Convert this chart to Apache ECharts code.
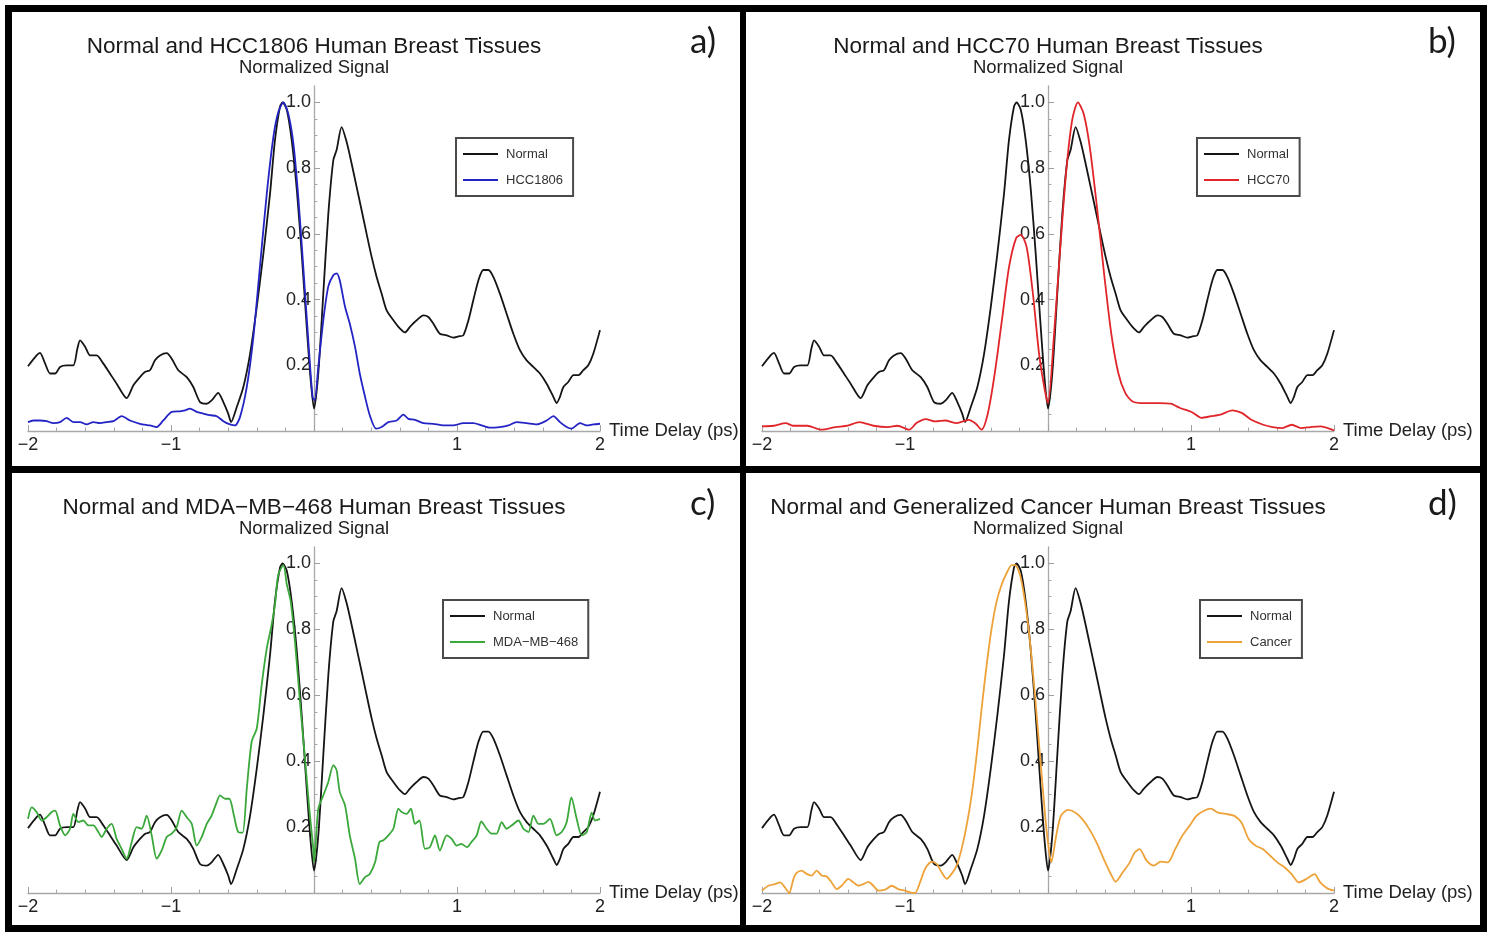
<!DOCTYPE html>
<html>
<head>
<meta charset="utf-8">
<script src="https://cdn.jsdelivr.net/npm/echarts@6/dist/echarts.min.js"></script>
<style>
html,body{margin:0;padding:0;background:#fff;}
#chart{width:1491px;height:932px;}
</style>
</head>
<body>
<div id="chart"></div>
<script>
// ---------- data (time delay ps, normalized signal) ----------
const normal = [[-2.0,0.197],[-1.94,0.23],[-1.916,0.238],[-1.88,0.205],[-1.846,0.175],[-1.81,0.175],[-1.776,0.195],[-1.73,0.20],[-1.683,0.20],[-1.655,0.25],[-1.636,0.276],[-1.60,0.256],[-1.566,0.23],[-1.52,0.23],[-1.473,0.205],[-1.427,0.175],[-1.38,0.144],[-1.31,0.10],[-1.263,0.139],[-1.217,0.164],[-1.18,0.18],[-1.147,0.185],[-1.112,0.215],[-1.077,0.23],[-1.03,0.237],[-0.995,0.22],[-0.949,0.185],[-0.89,0.164],[-0.844,0.134],[-0.797,0.088],[-0.75,0.083],[-0.716,0.093],[-0.67,0.116],[-0.634,0.088],[-0.60,0.053],[-0.58,0.027],[-0.54,0.073],[-0.494,0.134],[-0.447,0.235],[-0.40,0.378],[-0.354,0.54],[-0.308,0.72],[-0.273,0.885],[-0.238,0.987],[-0.22,1.0],[-0.19,0.977],[-0.156,0.885],[-0.12,0.733],[-0.086,0.54],[-0.051,0.317],[-0.023,0.154],[0.0,0.068],[0.03,0.175],[0.065,0.418],[0.10,0.66],[0.135,0.824],[0.158,0.855],[0.193,0.925],[0.228,0.88],[0.263,0.814],[0.298,0.743],[0.333,0.672],[0.368,0.60],[0.403,0.53],[0.438,0.469],[0.473,0.418],[0.508,0.367],[0.555,0.337],[0.60,0.312],[0.636,0.30],[0.671,0.317],[0.718,0.337],[0.765,0.352],[0.80,0.347],[0.834,0.327],[0.88,0.296],[0.928,0.291],[0.974,0.284],[1.01,0.288],[1.044,0.291],[1.08,0.337],[1.114,0.398],[1.15,0.459],[1.184,0.49],[1.22,0.49],[1.254,0.469],[1.30,0.418],[1.347,0.357],[1.394,0.296],[1.44,0.246],[1.487,0.215],[1.534,0.195],[1.58,0.175],[1.627,0.144],[1.674,0.104],[1.697,0.085],[1.72,0.104],[1.744,0.134],[1.778,0.149],[1.814,0.17],[1.85,0.17],[1.883,0.185],[1.918,0.20],[1.953,0.235],[2.0,0.307]];

const hcc1806 = [[-2.0,0.027],[-1.963,0.032],[-1.916,0.032],[-1.87,0.03],[-1.823,0.024],[-1.776,0.027],[-1.73,0.04],[-1.683,0.027],[-1.636,0.027],[-1.59,0.02],[-1.543,0.027],[-1.497,0.024],[-1.45,0.027],[-1.403,0.03],[-1.345,0.045],[-1.287,0.032],[-1.217,0.022],[-1.147,0.017],[-1.10,0.012],[-1.054,0.032],[-0.995,0.058],[-0.937,0.06],[-0.902,0.063],[-0.867,0.068],[-0.82,0.058],[-0.774,0.053],[-0.727,0.048],[-0.68,0.045],[-0.634,0.03],[-0.587,0.02],[-0.552,0.017],[-0.517,0.043],[-0.47,0.134],[-0.424,0.286],[-0.378,0.50],[-0.33,0.723],[-0.284,0.895],[-0.25,0.97],[-0.214,1.0],[-0.18,0.966],[-0.144,0.875],[-0.11,0.713],[-0.075,0.50],[-0.04,0.276],[-0.01,0.104],[0.005,0.093],[0.03,0.195],[0.065,0.337],[0.10,0.44],[0.135,0.474],[0.158,0.48],[0.18,0.459],[0.217,0.378],[0.25,0.327],[0.287,0.256],[0.32,0.175],[0.357,0.104],[0.39,0.048],[0.434,0.007],[0.473,0.012],[0.52,0.027],[0.578,0.032],[0.625,0.05],[0.66,0.037],[0.706,0.034],[0.765,0.024],[0.834,0.022],[0.904,0.017],[0.974,0.017],[1.044,0.024],[1.114,0.024],[1.172,0.017],[1.23,0.01],[1.30,0.012],[1.36,0.017],[1.417,0.027],[1.487,0.024],[1.557,0.02],[1.627,0.032],[1.674,0.045],[1.72,0.027],[1.767,0.012],[1.80,0.007],[1.86,0.024],[1.907,0.017],[1.953,0.02],[2.0,0.022]];

const hcc70 = [[-2.0,0.014],[-1.917,0.016],[-1.834,0.024],[-1.784,0.016],[-1.684,0.016],[-1.585,0.004],[-1.485,0.012],[-1.402,0.016],[-1.319,0.027],[-1.22,0.016],[-1.12,0.012],[-1.053,0.016],[-0.97,0.004],[-0.92,0.024],[-0.854,0.036],[-0.787,0.029],[-0.72,0.032],[-0.638,0.024],[-0.555,0.034],[-0.505,0.022],[-0.465,0.004],[-0.42,0.055],[-0.372,0.176],[-0.322,0.338],[-0.272,0.50],[-0.223,0.587],[-0.19,0.597],[-0.15,0.561],[-0.106,0.42],[-0.063,0.237],[-0.023,0.126],[0.0,0.085],[0.043,0.298],[0.083,0.541],[0.126,0.784],[0.169,0.946],[0.209,1.0],[0.249,0.966],[0.292,0.865],[0.342,0.683],[0.392,0.48],[0.442,0.298],[0.492,0.176],[0.541,0.115],[0.591,0.09],[0.674,0.085],[0.774,0.085],[0.857,0.083],[0.924,0.07],[1.007,0.057],[1.073,0.04],[1.14,0.045],[1.206,0.05],[1.289,0.063],[1.355,0.055],[1.422,0.034],[1.505,0.019],[1.571,0.012],[1.638,0.009],[1.704,0.019],[1.77,0.009],[1.837,0.012],[1.904,0.014],[2.0,0.002]];

const mdamb468 = [[-2.0,0.225],[-1.974,0.26],[-1.94,0.246],[-1.904,0.22],[-1.87,0.23],[-1.834,0.246],[-1.81,0.25],[-1.776,0.205],[-1.74,0.175],[-1.706,0.195],[-1.683,0.24],[-1.648,0.215],[-1.613,0.22],[-1.578,0.205],[-1.543,0.205],[-1.508,0.185],[-1.485,0.17],[-1.45,0.195],[-1.415,0.21],[-1.38,0.164],[-1.345,0.134],[-1.31,0.104],[-1.275,0.154],[-1.24,0.20],[-1.205,0.195],[-1.17,0.235],[-1.135,0.175],[-1.10,0.104],[-1.065,0.129],[-1.03,0.17],[-0.995,0.18],[-0.96,0.20],[-0.925,0.25],[-0.89,0.23],[-0.855,0.21],[-0.82,0.144],[-0.785,0.17],[-0.75,0.21],[-0.716,0.235],[-0.68,0.276],[-0.657,0.296],[-0.622,0.286],[-0.592,0.286],[-0.56,0.235],[-0.53,0.185],[-0.499,0.183],[-0.47,0.317],[-0.436,0.459],[-0.40,0.50],[-0.366,0.631],[-0.33,0.743],[-0.296,0.814],[-0.273,0.875],[-0.25,0.966],[-0.214,0.995],[-0.19,0.936],[-0.163,0.885],[-0.133,0.763],[-0.098,0.58],[-0.063,0.408],[-0.033,0.256],[-0.005,0.134],[0.0,0.093],[0.03,0.256],[0.065,0.296],[0.10,0.337],[0.135,0.388],[0.158,0.373],[0.18,0.307],[0.217,0.266],[0.25,0.175],[0.287,0.104],[0.32,0.027],[0.357,0.048],[0.39,0.058],[0.427,0.093],[0.457,0.154],[0.485,0.16],[0.52,0.175],[0.555,0.195],[0.59,0.256],[0.613,0.246],[0.648,0.24],[0.678,0.256],[0.706,0.21],[0.737,0.22],[0.776,0.134],[0.81,0.139],[0.846,0.175],[0.88,0.129],[0.928,0.175],[0.963,0.164],[0.998,0.144],[1.03,0.149],[1.07,0.139],[1.10,0.154],[1.138,0.175],[1.17,0.217],[1.207,0.195],[1.242,0.18],[1.277,0.18],[1.312,0.215],[1.347,0.195],[1.382,0.205],[1.43,0.22],[1.464,0.195],[1.50,0.185],[1.534,0.235],[1.569,0.21],[1.604,0.21],[1.65,0.225],[1.697,0.175],[1.732,0.185],[1.767,0.215],[1.80,0.29],[1.837,0.225],[1.872,0.175],[1.907,0.185],[1.942,0.244],[1.965,0.22],[2.0,0.225]];

const cancer = [[-2.0,0.007],[-1.956,0.022],[-1.91,0.027],[-1.874,0.032],[-1.84,0.017],[-1.81,0.0],[-1.78,0.043],[-1.758,0.061],[-1.723,0.068],[-1.688,0.058],[-1.653,0.053],[-1.618,0.068],[-1.583,0.053],[-1.548,0.05],[-1.513,0.032],[-1.478,0.012],[-1.443,0.022],[-1.396,0.043],[-1.36,0.032],[-1.326,0.022],[-1.291,0.027],[-1.256,0.034],[-1.221,0.022],[-1.186,0.007],[-1.14,0.01],[-1.093,0.022],[-1.047,0.012],[-1.0,0.007],[-0.965,0.002],[-0.93,0.0],[-0.895,0.032],[-0.86,0.073],[-0.813,0.095],[-0.778,0.088],[-0.744,0.063],[-0.709,0.043],[-0.674,0.058],[-0.639,0.083],[-0.604,0.134],[-0.569,0.205],[-0.534,0.296],[-0.499,0.418],[-0.464,0.56],[-0.429,0.692],[-0.394,0.804],[-0.359,0.885],[-0.324,0.936],[-0.289,0.971],[-0.254,0.995],[-0.23,0.995],[-0.196,0.966],[-0.161,0.885],[-0.126,0.763],[-0.091,0.60],[-0.056,0.418],[-0.02,0.235],[0.0,0.153],[0.023,0.093],[0.057,0.173],[0.09,0.234],[0.14,0.252],[0.19,0.244],[0.24,0.224],[0.29,0.193],[0.34,0.153],[0.39,0.103],[0.44,0.057],[0.473,0.034],[0.522,0.062],[0.572,0.093],[0.606,0.123],[0.64,0.133],[0.69,0.098],[0.739,0.083],[0.789,0.095],[0.839,0.093],[0.889,0.133],[0.938,0.173],[0.988,0.203],[1.038,0.234],[1.088,0.249],[1.138,0.256],[1.188,0.244],[1.255,0.239],[1.304,0.234],[1.354,0.213],[1.404,0.163],[1.454,0.143],[1.504,0.133],[1.554,0.113],[1.604,0.093],[1.654,0.078],[1.704,0.057],[1.754,0.032],[1.804,0.042],[1.864,0.057],[1.904,0.032],[1.953,0.014],[2.0,0.007]];

const panelTitles = ['Normal and HCC1806 Human Breast Tissues','Normal and HCC70 Human Breast Tissues','Normal and MDA\u2212MB\u2212468 Human Breast Tissues','Normal and Generalized Cancer Human Breast Tissues'];
const panelLetters = ['a)','b)','c)','d)'];
const sampleNames = ['HCC1806','HCC70','MDA\u2212MB\u2212468','Cancer'];
const sampleData = [hcc1806, hcc70, mdamb468, cancer];
const sampleColors = ['#2424c4','#e0262a','#3aa83a','#eea23a'];
const majorY = [0.2,0.4,0.6,0.8,1.0];
const minorY = [0.05,0.1,0.15,0.25,0.3,0.35,0.45,0.5,0.55,0.65,0.7,0.75,0.85,0.9,0.95];

// ---------- layout ----------
const FONT = '"Liberation Sans", Arial, Helvetica, sans-serif';
const gridPos = [
  {left:28, top:86, width:572, height:345},
  {left:762, top:86, width:572, height:345},
  {left:28, top:547, width:572, height:346},
  {left:762, top:547, width:572, height:346}
];
const yAxisShift = -286; // move y axis from grid edge to time delay 0
const legendPos = [{left:456, top:138},{left:1197, top:138},{left:443, top:600},{left:1200, top:600}];
const titlePos = [{x:314,y:35},{x:1048,y:35},{x:314,y:496},{x:1048,y:496}];
const letterPos = [{x:690,y:24},{x:1428,y:24},{x:690,y:486},{x:1428,y:486}];

const grids = [], xAxes = [], yAxes = [], series = [], legends = [], titles = [];
for (let i = 0; i < 4; i++) {
  grids.push(Object.assign({containLabel:false}, gridPos[i]));
  xAxes.push({
    gridIndex:i, type:'value', min:-2, max:2, interval:1,
    axisLine:{onZero:false, lineStyle:{color:'#a8a8a8', width:1.3}},
    axisTick:{inside:true, length:6, lineStyle:{color:'#a0a0a0', width:1}},
    minorTick:{show:true, splitNumber:5, length:3.5, lineStyle:{color:'#a8a8a8', width:1}},
    splitLine:{show:false}, minorSplitLine:{show:false},
    axisLabel:{fontSize:18, color:'#222', fontFamily:FONT, margin:5,
      formatter:function(v){ if (v === 0) return ''; return v < 0 ? '\u2212' + Math.abs(v) : String(v); }},
    name:'Time Delay (ps)', nameLocation:'end', nameGap:7,
    nameTextStyle:{fontSize:18.5, color:'#222', fontFamily:FONT}
  });
  yAxes.push({
    gridIndex:i, type:'value', min:0, max:1.05, position:'left', offset:yAxisShift,
    axisLine:{onZero:false, lineStyle:{color:'#a8a8a8', width:1.3}},
    axisTick:{inside:true, length:6, customValues:majorY, lineStyle:{color:'#a0a0a0', width:1}},
    axisLabel:{customValues:majorY, fontSize:18, color:'#222', fontFamily:FONT, margin:3,
      formatter:function(v){ return v.toFixed(1); }},
    splitLine:{show:false},
    name:'Normalized Signal', nameLocation:'end', nameGap:9,
    nameTextStyle:{fontSize:18.5, color:'#222', fontFamily:FONT, align:'center'}
  });
  yAxes.push({
    gridIndex:i, type:'value', min:0, max:1.05, position:'left', offset:yAxisShift,
    axisLine:{show:false, onZero:false},
    axisTick:{inside:true, length:3.5, customValues:minorY, lineStyle:{color:'#a8a8a8', width:1}},
    axisLabel:{show:false}, splitLine:{show:false}
  });
  series.push({
    name:'Normal', type:'line', xAxisIndex:i, yAxisIndex:2*i, data:normal,
    showSymbol:false, symbol:'none', smooth:0.25, clip:false,
    lineStyle:{color:'#151515', width:1.8}, itemStyle:{color:'#151515'}, z:2
  });
  series.push({
    name:sampleNames[i], type:'line', xAxisIndex:i, yAxisIndex:2*i, data:sampleData[i],
    showSymbol:false, symbol:'none', smooth:0.25, clip:false,
    lineStyle:{color:sampleColors[i], width:1.8}, itemStyle:{color:sampleColors[i]}, z:3
  });
  legends.push({
    orient:'vertical', left:legendPos[i].left, top:legendPos[i].top,
    data:['Normal', sampleNames[i]], icon:'rect', itemWidth:35, itemHeight:2, itemGap:12,
    padding:[9,10,9,7], borderColor:'#4a4a4a', borderWidth:2, backgroundColor:'#fff',
    selectedMode:false,
    textStyle:{fontSize:13, color:'#333', fontFamily:FONT, lineHeight:14, padding:[0,0,0,3]}
  });
  titles.push({
    text:panelTitles[i], left:titlePos[i].x, top:titlePos[i].y, textAlign:'center', padding:0,
    textStyle:{fontSize:22.5, fontWeight:'normal', color:'#1a1a1a', fontFamily:FONT}
  });
  titles.push({
    text:panelLetters[i], left:letterPos[i].x, top:letterPos[i].y, padding:0,
    textStyle:{fontSize:35, fontWeight:'normal', color:'#1a1a1a', fontFamily:'Lato, "Open Sans", sans-serif'}
  });
}

const borders = [
  {x:5, y:5, w:1482, h:7},
  {x:5, y:925, w:1482, h:7},
  {x:5, y:5, w:7, h:927},
  {x:1480, y:5, w:7, h:927},
  {x:740, y:5, w:6, h:927},
  {x:5, y:466, w:1482, h:7}
];

const chart = echarts.init(document.getElementById('chart'), null, {renderer:'canvas'});
chart.setOption({
  backgroundColor:'#ffffff',
  animation:false,
  title:titles,
  legend:legends,
  grid:grids,
  xAxis:xAxes,
  yAxis:yAxes,
  series:series,
  graphic:borders.map(function(b){ return {type:'rect', shape:{x:b.x, y:b.y, width:b.w, height:b.h}, style:{fill:'#000'}, z:100, silent:true}; })
});
</script>
</body>
</html>
